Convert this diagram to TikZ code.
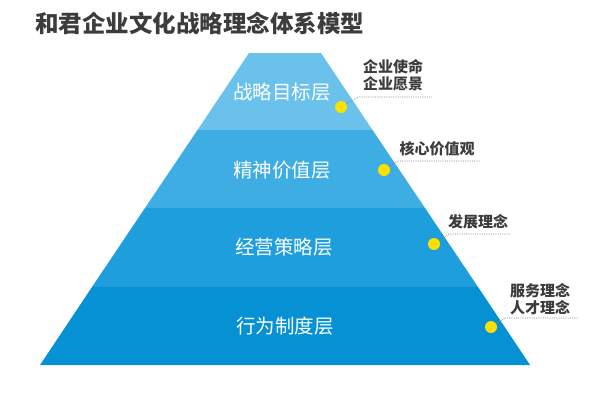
\documentclass[tikz,border=0pt]{standalone}
\usepackage{fontspec}
\setmainfont{Noto Sans CJK SC}
\usetikzlibrary{positioning}
\definecolor{layerA}{RGB}{105,193,236}
\definecolor{layerB}{RGB}{62,173,228}
\definecolor{layerC}{RGB}{30,158,220}
\definecolor{layerD}{RGB}{5,145,212}
\definecolor{dotY}{RGB}{250,225,0}
\definecolor{labelG}{RGB}{60,60,60}
\tikzset{
  layertext/.style={text=white,font=\fontsize{19.5}{21}\selectfont},
  dotnode/.style={circle,fill=dotY,inner sep=0pt,minimum size=12pt},
  notetext/.style={text=labelG,font=\fontsize{15}{17}\selectfont\bfseries,align=center,inner sep=1pt},
  leader/.style={draw=gray,dash pattern={on 0.8pt off 1pt},line width=0.6pt}
}
\begin{document}
\begin{tikzpicture}[x=1pt,y=1pt,yscale=-1]
\useasboundingbox (0,0) rectangle (600,400);

% Title
\node (title) [anchor=west,text=labelG,font=\fontsize{23.5}{25}\selectfont\bfseries,inner sep=0pt] at (35,23) {和君企业文化战略理念体系模型};

% Layers
\fill [layerA] (249,53) -- (321,53) -- (372.5,130) -- (197.5,130) -- cycle;
\fill [layerB] (197.5,130) -- (372.5,130) -- (425,208) -- (145,208) -- cycle;
\fill [layerC] (145,208) -- (425,208) -- (478,287) -- (92,287) -- cycle;
\fill [layerD] (92,287) -- (478,287) -- (530,365) -- (40,365) -- cycle;

% Layer texts
\node (goal) [layertext] at (282,92) {战略目标层};
\node (spirit) [layertext] at (282,170) {精神价值层};
\node (manage) [layertext] at (284,247) {经营策略层};
\node (conduct) [layertext] at (285,326) {行为制度层};

% Dots
\node (d1) [dotnode] at (341,107) {};
\node (d2) [dotnode] at (384,170) {};
\node (d3) [dotnode] at (434,244) {};
\node (d4) [dotnode] at (491,327) {};

% Notes
\node (n1) [notetext] at (393,75) {企业使命\\企业愿景};
\node (n2) [notetext] at (437,149) {核心价值观};
\node (n3) [notetext] at (478,222) {发展理念};
\node (n4) [notetext] at (540,299) {服务理念\\人才理念};

% Leaders
\coordinate (u1) at (358,97);  \coordinate (v1) at (432,97);
\coordinate (u2) at (398,161); \coordinate (v2) at (480,161);
\coordinate (u3) at (449,234); \coordinate (v3) at (510,234);
\coordinate (u4) at (505,318); \coordinate (v4) at (578,318);
\draw [leader] (d1) -- (u1) -- (v1);
\draw [leader] (d2) -- (u2) -- (v2);
\draw [leader] (d3) -- (u3) -- (v3);
\draw [leader] (d4) -- (u4) -- (v4);
\end{tikzpicture}
\end{document}
